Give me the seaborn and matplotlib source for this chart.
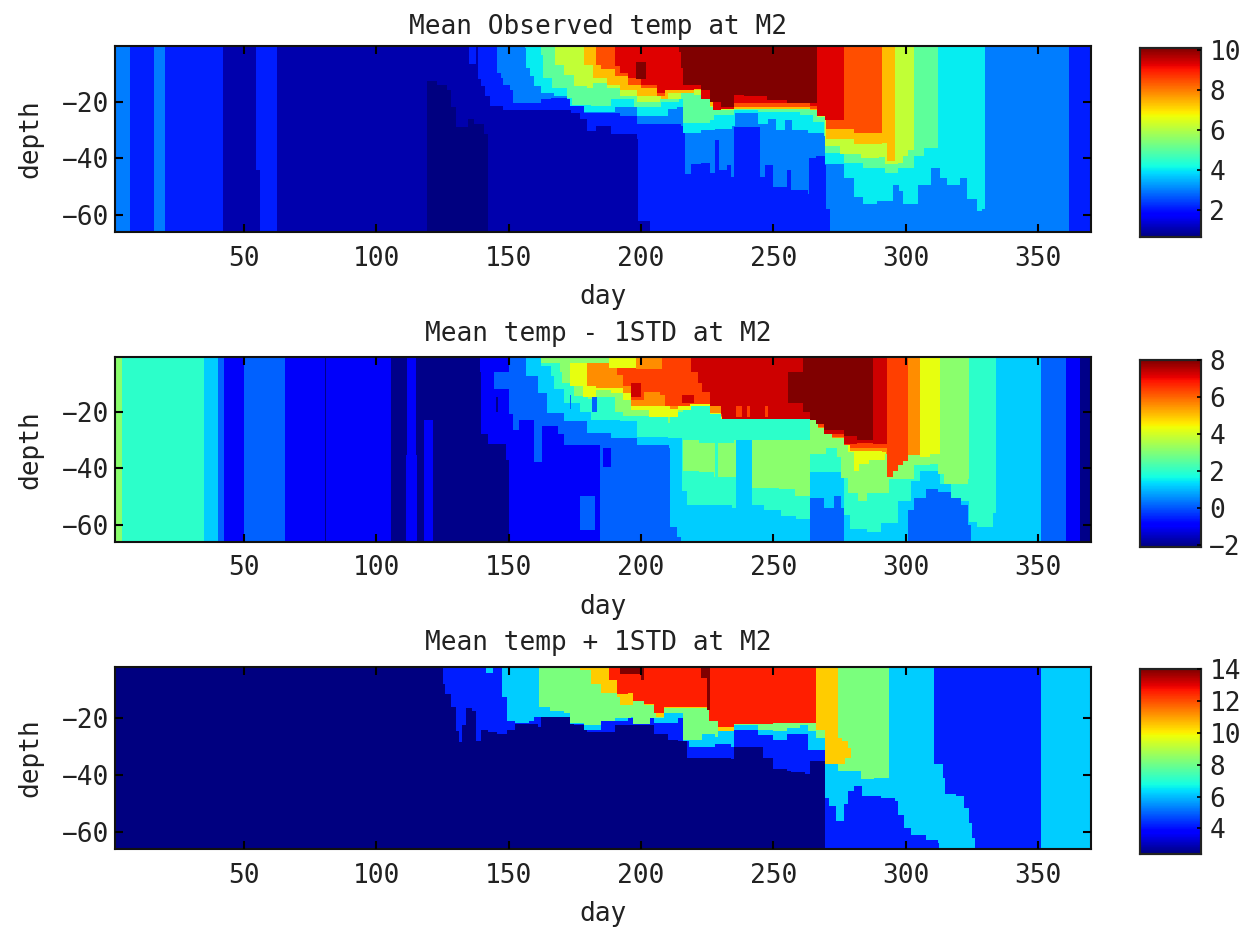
import numpy as np
import matplotlib
matplotlib.use("Agg")
import matplotlib.pyplot as plt
import seaborn as sns

# ---- data -----------------------------------------------------------------
# Each isotherm list holds (start day, depth reached from the surface); a value
# holds until the next start day. Layers are painted in list order over a base.
TITLES = ["Mean Observed temp at M2", "Mean temp - 1STD at M2", "Mean temp + 1STD at M2"]
DAY_TICKS = [50, 100, 150, 200, 250, 300, 350]
DEPTH_TICKS = [-20, -40, -60]
CBAR_TICKS_1 = [2, 4, 6, 8, 10]
CBAR_TICKS_2 = [-2, 0, 2, 4, 6, 8]
CBAR_TICKS_3 = [4, 6, 8, 10, 12, 14]

# Panel 1 contour-band values
P1_V = [0.65, 1.03, 2.12, 3.01, 4.03, 5.02, 6.17, 7.36, 8.46, 9.3, 10.1]
P1_L1 = [(1,66),(119,12.4),(123,14),(126.5,15.9),(128,22),(129.7,28.9),(134.2,26),(137,28),(140.5,31.2),(141.8,66)]
P1_L2 = [(1,66),(41.6,0),(54.4,44),(55.6,66),(62.4,0),(134.8,6.5),(137.5,0),(138.5,11.8),(139.2,14.3),(141,18),(143,21.4),
         (148,22.6),(161.9,22.6),(173.2,23.7),(177,26),(179.5,30.2),(182.7,28.4),(188.3,31.4),(198.4,32.6),(199,62),(203.5,66)]
P1_L3 = [(1,66),(6.9,0),(15.7,66),(19.8,0),(145.5,10),(147,11.4),(148,14),(150.5,16),(151.2,20.2),(155.6,20.5),(161.9,19),
         (165.6,18.4),(173.2,21.4),(178.2,23.7),(185.8,23.7),(192,24.9),(198.4,27.9),(214.8,28.4),(216.4,45.4),(219,42),
         (222.3,41.2),(226,44.7),(228,33.5),(229.2,44),(232.4,42.3),(233.6,46.5),(234.9,28.8),(243.7,28.8),(245,46.5),
         (246.9,42.3),(250,50),(254.4,50),(255,44),(256.3,50.6),(262.6,52.4),(263.2,40),(265.8,38.8),(269.5,42.3),(270,57.6),
         (271.4,66),(361.5,0)]
P1_L4 = [(155.6,1),(156.2,7.8),(158,11),(159.4,14.3),(161.9,16.7),(166.9,17.8),(172,19),(173,21.4),(178.2,23.1),(189.6,22),
         (198.4,24.9),(209.7,22.5),(213.5,22),(216,30.8),(222.3,30),(228,29.4),(234.3,28.2),(235.5,24),(243,24),(243.7,27.6),
         (248,25.8),(250.6,30),(254.4,26.4),(257,30),(262.6,30.6),(268.9,31.7),(269.5,41.7),(276.5,47),(280.2,53.5),(284,55.9),
         (289,54.7),(294.7,49.4),(297.2,51.2),(299,55.9),(302.3,55.9),(304.2,49.4),(309.2,43.5),(313,47),(315.5,49.4),
         (320.5,47),(323,54.2),(327,58.3),(329,57.7),(329.6,0)]
P1_L5 = [(161.9,3.1),(163,11.4),(166.3,14.9),(172,18.4),(173.8,20.8),(180.8,21.4),(188.3,19),(193.4,19),(197.1,22),
         (207.2,19.6),(214.1,19),(216,27.3),(226,26.4),(227.3,24.1),(234.9,22.9),(243.7,23.5),(260,24.1),(265,27),(268.9,31.7),
         (269.5,37.6),(276.5,41.2),(284,43.5),(291.6,44.7),(296.6,43.5),(302.9,38.8),(307,36.5),(311.7,0)]
P1_L6 = [(167.5,7),(170.7,10.2),(174.5,14.3),(179.5,14.9),(182,13.1),(187,14.9),(192,17.8),(198.4,19.6),(207,19),
         (214.8,16),(219.8,17.5),(226,22),(229.9,23),(234.9,21.7),(263.9,22.3),(266.4,25.3),(269.5,35.3),(275,38.2),
         (282.7,40),(290,39.4),(292,41.7),(296.6,41.2),(299,39),(301,37),(302.9,0)]
P1_L7 = [(178.2,6.6),(182,11.4),(187,13.7),(192,16),(198.4,17.8),(207.2,19),(209.7,16.6),(219.8,16),(226,21.4),(229.9,22.5),
         (263.9,22.6),(266.4,25),(270,32.9),(280.2,34.7),(291,34.1),(292.6,40.6),(296,0)]
P1_L8 = [(182.7,6.6),(185,8.5),(189.6,10.8),(194.6,13.7),(199.7,14.9),(206,17.8),(209,16),(219.8,15.5),(224.8,19),(229.3,22),
         (263.9,22.2),(266.4,24.9),(270,29.4),(280.2,30.6),(291,0)]
P1_L9 = [(189.6,7.5),(192,10),(194.6,11.5),(199.7,13.7),(206,16.7),(209,15.9),(219.8,15.3),(222.3,18.8),(226.7,22.9),
         (229.9,22.3),(234.9,20.5),(263.9,21.1),(266.4,24.7),(269.5,26.4),(276.5,0)]
P1_L10 = [(214.1,2.5),(215,8),(216,13.7),(222.3,16),(226,20),(229.9,21.7),(234.9,17.5),(238.7,18),(247.5,19.5),(255,20.5),(266.4,0)]
P1_LAYERS = [(1,P1_L1),(2,P1_L2),(3,P1_L3),(4,P1_L4),(5,P1_L5),(6,P1_L6),(7,P1_L7),(8,P1_L8),(9,P1_L9),(10,P1_L10)]
# band, first day, last day, upper depth, lower depth
P1_SPOTS = [(10,197.8,201.9,6,12)]

# Panel 2 contour-band values
P2_V = [-2.0, -1.0, 0.12, 1.2, 2.0, 3.13, 4.26, 5.58, 6.4, 7.3, 8.0]
P2_L1 = [(1,66),(105.2,0),(111.5,66),(115,0),(139,6),(139.5,28),(142,31.3),(148,31.3),(149,37),(149.8,66),(365.6,0)]
P2_L2 = [(1,66),(42.5,0),(49.7,66),(65.2,0),(149.9,21),(151.5,26.5),(154,23),(159.4,38),(162.5,25),(168.5,28),(171,31.7),
         (178,32),(184.5,66),(360.5,0)]
P2_L3 = [(1,66),(39.6,0),(153,1),(156.2,7.3),(160.6,13.2),(164.4,20.4),(170.7,23.3),(179.5,27.5),(188.3,29.3),(198.4,31.6),
         (210.4,32.8),(211,60.7),(213.5,64.2),(215,66),(263.9,50.3),(269,53.8),(272.7,49.7),(275.3,53.8),(276.5,66),(301,55),
         (303,50.3),(307.4,47.3),(311.8,48.5),(316.8,50.3),(320.6,52.6),(323.1,59.8),(324.1,66),(351,0)]
P2_L4A = [(1,66),(34.6,0),(161.9,3.8),(165.6,7.3),(166.9,12),(170.7,16.8),(177,20),(180.8,22.7),(192,23.3),(198.4,28.7),
          (209.7,29.3),(215.4,47.6),(217.3,52.6),(227.4,52.6),(234.4,53.8),(235.6,0),(241.9,52.6),(246.3,55),(252.6,56.8),
          (258.3,58),(263.9,41.4),(275.3,43.2),(276.5,56.2),(279,61.5),(285.3,62.1),(290.4,59.2),(296.7,51.4),(301.7,44.3),
          (305.5,40.8),(309.9,40.8),(313,45.5),(316.8,50.3),(320.6,51.4),(323.7,58.6),(326.9,61),(333,56),(333.8,0)]
P2_L5 = [(1,66),(3.7,0),(162,3),(169.4,6),(170,9.7),(174.5,14.4),(180,15.4),(182,15),(189.6,19.8),(192.7,21.5),(209.7,24),
         (211,22),(212.5,20),(216,40.8),(222,41.5),(227.4,43),(235.6,0),(241.9,46.7),(252,47.5),(258,50),(263.9,35),(270,33),
         (274,36),(275.3,43.2),(277.8,49),(281.6,51.4),(285.3,49),(293.5,43.7),(303,39),(308.6,38.4),(311.8,42),(314.3,45.5),
         (323.1,43.7),(323.7,0)]
P2_L4B = [(216,30),(222,31),(235,30),(263.9,0)]
P2_L6 = [(172.6,10.9),(178,15),(183,12.5),(188.5,13.5),(193,16),(195.8,19.5),(203,22),(210,21.9),(214,19.2),(219,18),(226,21),
         (229.9,22.4),(265,22.7),(269,27.7),(276.5,31.5),(278,34.3),(280.3,40.8),(282.2,38.4),(286,37),(291.6,34.9),(293,42.6),
         (295,41),(297,39),(299,37.5),(301,35.4),(305.2,36),(309,35),(313,0)]
P2_L7 = [(179.5,11),(183,11.5),(189,11.5),(193,13.5),(195.8,18),(204,18),(211,18.6),(214,17.5),(226,20.5),(229.9,22),
         (264.6,22.8),(267,25.6),(271.6,29.5),(276.5,32),(279,33.7),(291,34.3),(292.5,35),(293,42.6),(295,41),(297,39),
         (299,37.5),(301,35.4),(305.2,0)]
P2_L8 = [(190.8,5),(191,7),(193,11),(195.8,15.6),(201,13),(207,13.8),(209,18),(218.5,17.4),(226,18),(229.9,21.5),(264,22.2),
         (267,25.3),(271.6,29),(276.5,32),(279,33),(292.9,33.7),(293,42.6),(295,41),(297,39),(299,37.5),(301,0)]
P2_L9 = [(219,6),(221.5,10),(223,13),(226,18),(229.9,21),(230.5,22.4),(263.9,22.4),(269,27.7),(276.5,31.3),(281.5,30.7),
         (287.2,31.3),(292.9,0)]
P2_L10 = [(260.7,20),(263.9,23),(266,24.5),(269,26.5),(276.5,28.3),(281.5,30),(287.2,0)]
P2_LAYERS = [(1,P2_L1),(2,P2_L2),(3,P2_L3),(4,P2_L4A),(5,P2_L5),(4,P2_L4B),(6,P2_L6),(7,P2_L7),(8,P2_L8),(9,P2_L9),(10,P2_L10)]
P2_SPOTS = [(5,172,188,0,3),(6,188,198,0,4.5),(7,198,208,0,5),(9,196,199.7,10,15),(9,215.4,219.8,13.8,16.8),(10,255.5,261,6,17),
            (1,111,115.5,35.5,66),(1,117.7,121.5,23,66),(2,144.2,149.9,6,12),(1,185.2,188.3,32.8,39.3),(2,177,182.5,50,62),
            (0,80.4,80.9,0,66),(8,236,238,18,22),(8,240,241,18,22),(8,247,248,18,22),(4,228,229,31,43),(2,172.6,173.4,14,19),
            (2,181.4,183.3,15,20),(0,145,146,15,20)]

# Panel 3 contour-band values
P3_V = [2.4, 4.2, 6.2, 8.2, 10.45, 12.55, 14.0]
P3_L1 = [(124.7,7.7),(126,11.2),(127.9,15.9),(129.8,24.2),(131,28.3),(132.3,22.4),(133.6,16.5),(136,17.1),(137.3,27.7),
         (139.2,23.6),(141.7,24.8),(145.5,25.3),(149.3,23.6),(152.5,21.8),(157.5,21.8),(160.6,23),(161.9,19.5),
         (170.7,19.5),(174.5,22.4),(179.5,24.8),(189.6,22.4),(197,22.4),(204.7,25.3),(209.7,27.1),(214,27.7),
         (217.3,33.6),(225,33.6),(233.7,34.2),(235,30),(243.8,30),(245.6,33.6),(250,37.7),(255,38.3),(256.4,38.9),
         (262,39.5),(264,34.8),(269.4,66)]
P3_L2 = [(141.5,4),(143.6,0),(145.5,1),(147.5,12.4),(149.3,20.6),(152.5,21.2),(157.5,20.6),(159.4,19.5),(170.7,19.5),
         (173,21.6),(178.3,23.6),(184.6,21),(189.6,20.6),(194.6,20),(197,19.5),(204.7,21.2),(209.7,21.2),(214,20),
         (216,27.7),(218,30),(228,29),(233.7,30),(235,23.6),(243.8,26),(250,27.1),(255,25.3),(262.7,30.6),(269.4,47.7),
         (271,51),(273.4,56),(276.5,50),(277.8,45.4),(280.3,44),(283.5,47.1),(290.4,47.7),(296,48.9),(296.7,53.6),
         (299.2,58.3),(301.7,60.7),(304.9,60.7),(307.4,63),(311.8,63.6),(312.4,66)]
P3_L1B = [(310.3,36),(313.7,40.7),(315,46.5),(318.7,47.1),(321.9,51.3),(323.8,56.6),(325,61.9),(326,66),(350.6,0)]
P3_L3 = [(161.3,15.9),(165.5,17.1),(170.7,17.7),(173,21.2),(178.3,22.4),(184.6,20.6),(189.6,20),(196,19.5),(197,21.8),
         (203.5,20),(208.5,17.7),(216,27.1),(221,27.1),(223,25.4),(228,26.3),(228.6,23.6),(235,22.4),(243.8,23.6),
         (250,24.2),(255,23.5),(260,22.4),(262.7,24.2),(265.6,27),(269.4,36),(274.4,38.3),(279.5,38.3),(282.8,41.3),
         (288,40.7),(293.3,0)]
P3_L4 = [(177,2.9),(181,7.7),(184.6,10.6),(190.9,12.4),(192,15.3),(197,11),(201,15.3),(205.3,19.5),(208.5,16.5),
         (220,16.5),(226,20.6),(228.6,24.2),(235,22),(237.5,21.2),(256,21.2),(265.6,23.8),(269.4,36),(274.4,36),
         (277,34),(279.4,0)]
P3_L3B = [(274.4,27),(276,28),(278,30.5),(279.4,0)]
P3_L5 = [(184.6,2.4),(187.7,6.5),(190.9,11.2),(194.6,10.6),(197,13.6),(201,14.8),(204.7,17.7),(208.5,16),(219.8,16),
         (225.5,20.6),(228.6,23),(235,21.8),(250,21.5),(260,21.2),(265.6,0)]
P3_L6 = [(192,4.5),(199.7,6.5),(201,0),(222.4,6),(225,17),(226,0),(232,2.5),(233.7,0)]
P3_LAYERS = [(1,P3_L1),(2,P3_L2),(1,P3_L1B),(3,P3_L3),(4,P3_L4),(3,P3_L3B),(5,P3_L5),(6,P3_L6)]
P3_SPOTS = []

COLOR_LIMITS = [(0.65, 10.1), (-2.1, 8.0), (2.4, 14.0)]
# ---------------------------------------------------------------------------

W, H = 1242, 927
STEP = 0.5
DAY0, DAY1 = 1.0, 371.0
DEPTH_MAX = 66.0
days = np.arange(DAY0, DAY1, STEP)
depths = np.arange(0, DEPTH_MAX, STEP)


def build(values, layers, spots):
    grid = np.full((len(depths), len(days)), values[0], dtype=float)
    for band, trace in layers:
        starts = np.array([t[0] for t in trace])
        reach = np.array([t[1] for t in trace])
        idx = np.searchsorted(starts, days + 1e-6, side="right") - 1
        bound = np.where(idx >= 0, reach[np.clip(idx, 0, None)], 0.0)
        grid[depths[:, None] < bound[None, :]] = values[band]
    for band, d0, d1, z0, z1 in spots:
        grid[np.ix_((depths >= z0) & (depths < z1), (days >= d0) & (days < d1))] = values[band]
    return grid


def box(l, t, r, b):
    return [l / W, 1 - b / H, (r - l) / W, (b - t) / H]


sns.set_theme(style="white")
plt.rcParams["font.family"] = ["DejaVu Sans Mono"]
FS = 18.8
INK = "#222222"
fig = plt.figure(figsize=(W / 100, H / 100), dpi=100)

panels = [
    (P1_V, P1_LAYERS, P1_SPOTS, (115, 46, 1091, 232), (1140, 48, 1201, 237), CBAR_TICKS_1, 0.3, 8.5),
    (P2_V, P2_LAYERS, P2_SPOTS, (115, 357, 1091, 541.5), (1140, 360, 1201, 547), CBAR_TICKS_2, 0.7, 11.3),
    (P3_V, P3_LAYERS, P3_SPOTS, (115, 666.5, 1091, 849), (1140, 669, 1201, 854), CBAR_TICKS_3, 1.8, 12),
]

for i, (vals, layers, spots, abox, cbox, cticks, ztop, tpad) in enumerate(panels):
    ax = fig.add_axes(box(*abox))
    cax = fig.add_axes(box(*cbox))
    vmin, vmax = COLOR_LIMITS[i]
    sns.heatmap(build(vals, layers, spots), ax=ax, cbar_ax=cax, cmap="jet", vmin=vmin, vmax=vmax,
                xticklabels=False, yticklabels=False, cbar_kws={"ticks": cticks})
    ax.set_xlim((1.2 - DAY0) / STEP, (370.0 - DAY0) / STEP)
    ax.set_ylim(DEPTH_MAX / STEP, ztop / STEP)
    ax.set_xticks([(d - DAY0) / STEP for d in DAY_TICKS])
    ax.set_xticklabels([str(d) for d in DAY_TICKS], rotation=0, fontsize=FS, color=INK)
    ax.set_yticks([-d / STEP for d in DEPTH_TICKS])
    ax.set_yticklabels([str(d).replace("-", "\u2212") for d in DEPTH_TICKS], rotation=0, fontsize=FS, color=INK)
    ax.set_axisbelow(False)
    cax.set_axisbelow(False)
    ax.tick_params(axis="x", which="major", direction="in", top=True, bottom=True,
                   length=6, width=1.5, color="black", pad=10)
    ax.tick_params(axis="y", which="major", direction="in", left=True, right=True,
                   length=6, width=1.5, color="black", pad=4.5)
    for s in ax.spines.values():
        s.set_visible(True)
        s.set_linewidth(1.5)
        s.set_color("#111111")
    ax.set_title(TITLES[i], fontsize=FS, color=INK, pad=tpad, x=0.495)
    ax.set_xlabel("day", fontsize=FS, color=INK, labelpad=9)
    ax.set_ylabel("depth", fontsize=FS, color=INK, labelpad=13.4)
    cax.tick_params(axis="y", which="major", direction="in", right=True, length=3, width=1.2, color="black",
                    pad=6, labelsize=FS, labelcolor=INK)
    for s in cax.spines.values():
        s.set_visible(True)
        s.set_linewidth(1.5)
        s.set_color("#222222")

fig.savefig("out.png", dpi=100)
